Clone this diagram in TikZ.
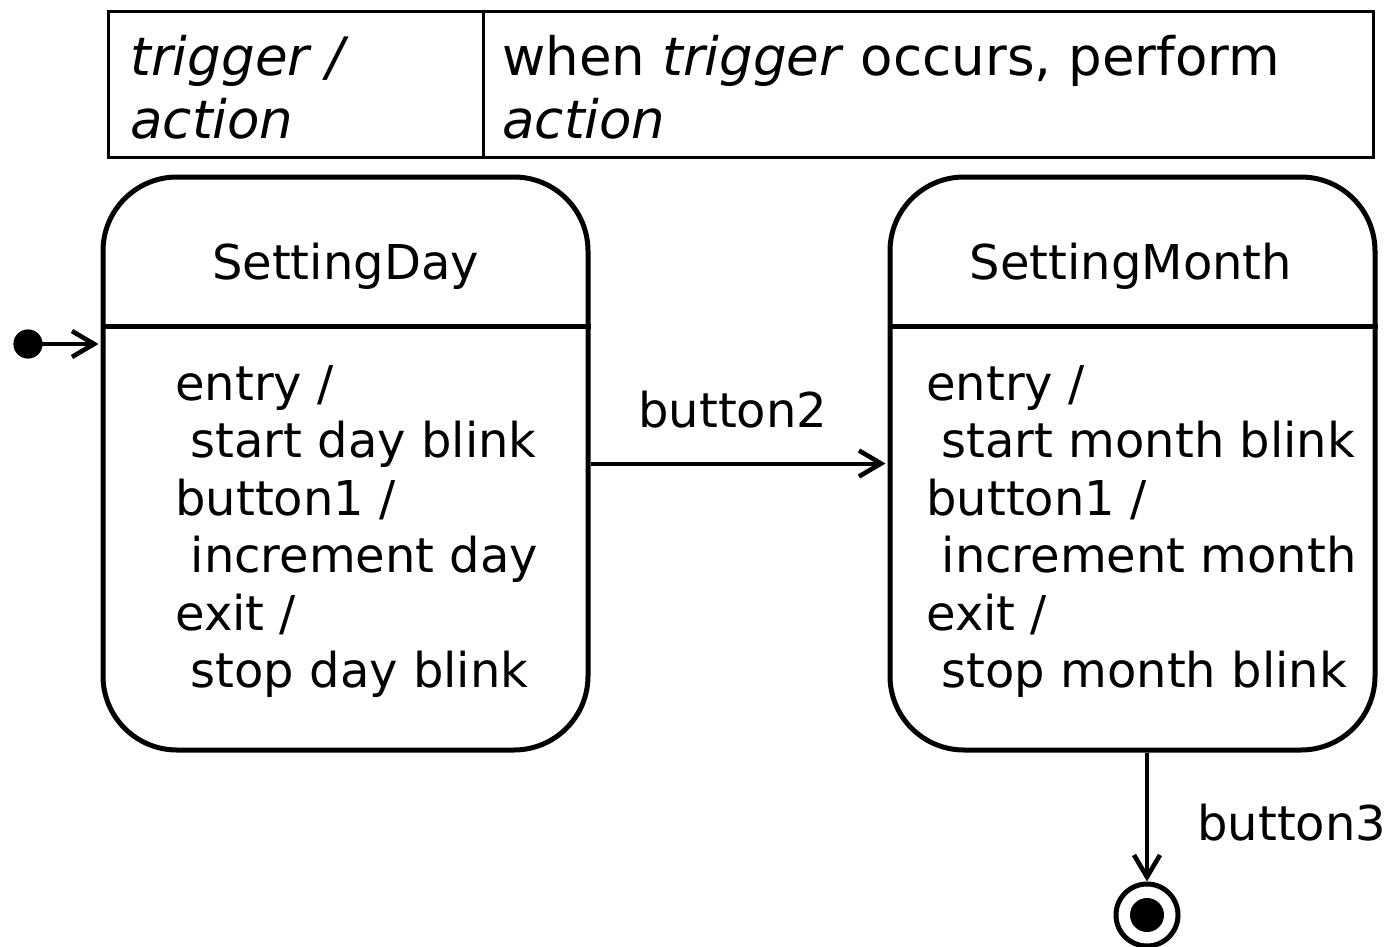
\documentclass[tikz,border=0pt]{standalone}
\usepackage{fontspec}
\setmainfont{DejaVu Sans}
\usetikzlibrary{arrows.meta,calc}
\begin{document}
\begin{tikzpicture}[x=0.5pt,y=-0.5pt,
  statebox/.style={draw,line width=2.5pt,rounded corners=37pt,inner sep=0pt,
    minimum width=242.5pt,minimum height=286.5pt},
  cell/.style={draw,line width=1.5pt,inner sep=0pt,minimum height=72.5pt},
  bodytext/.style={anchor=north west,inner sep=0pt,align=left,
    font=\fontsize{24}{28.75}\selectfont},
  lbl/.style={anchor=base west,inner sep=0pt,font=\fontsize{24}{28.75}\selectfont},
  tbl/.style={anchor=north west,inner sep=0pt,align=left,
    font=\fontsize{26.5}{31.5}\selectfont},
  trans/.style={line width=2pt,-{Straight Barb[length=11pt,width=13pt,line width=2.3pt]}}]
\useasboundingbox (0,0) rectangle (1386,947);

% legend table
\node[cell,minimum width=187.5pt] (c1) at (295.5,84.5) {};
\node[cell,minimum width=445pt] (c2) at (928,84.5) {};
\node[tbl] (t1) at (130,35) {\itshape trigger /\\\itshape action};
\node[tbl] (t2) at (502,35) {when \textit{trigger} occurs, perform\\\itshape action};

% states
\node[statebox] (s1) at (345.5,463.5) {};
\node[statebox] (s2) at (1132.5,463.5) {};
\draw[line width=2.5pt] (s1.west |- 0,326) coordinate (d1a) -- (s1.east |- 0,326) coordinate (d1b);
\draw[line width=2.5pt] (s2.west |- 0,326) coordinate (d2a) -- (s2.east |- 0,326) coordinate (d2b);
\node[lbl,anchor=base] (n1) at (345.5,279) {SettingDay};
\node[lbl,anchor=base] (n2) at (1131,279) {SettingMonth};
\node[bodytext] (b1) at (175,365) {entry /\\\ start day blink\\button1 /\\\ increment day\\exit /\\\ stop day blink};
\node[bodytext] (b2) at (926,365) {entry /\\\ start month blink\\button1 /\\\ increment month\\exit /\\\ stop month blink};

% initial and final pseudostates
\fill (28,344) circle (7.3pt);
\node[circle,inner sep=0pt,minimum size=0pt] (ini) at (28,344) {};
\draw[trans] (ini) -- ($(ini -| s1.west)+(-2,0)$);
\node[circle,draw,line width=2.5pt,minimum size=31pt,inner sep=0pt] (fin) at (1147,915) {};
\fill (fin.center) circle (8.5pt);

% transitions
\draw[trans] (s1.east) -- ($(s2.west)+(-2,0)$);
\node[lbl] (l2) at (638,427) {button2};
\draw[trans] (fin.north |- s2.south) -- (fin.north);
\node[lbl] (l3) at (1197,840) {button3};
\end{tikzpicture}
\end{document}
